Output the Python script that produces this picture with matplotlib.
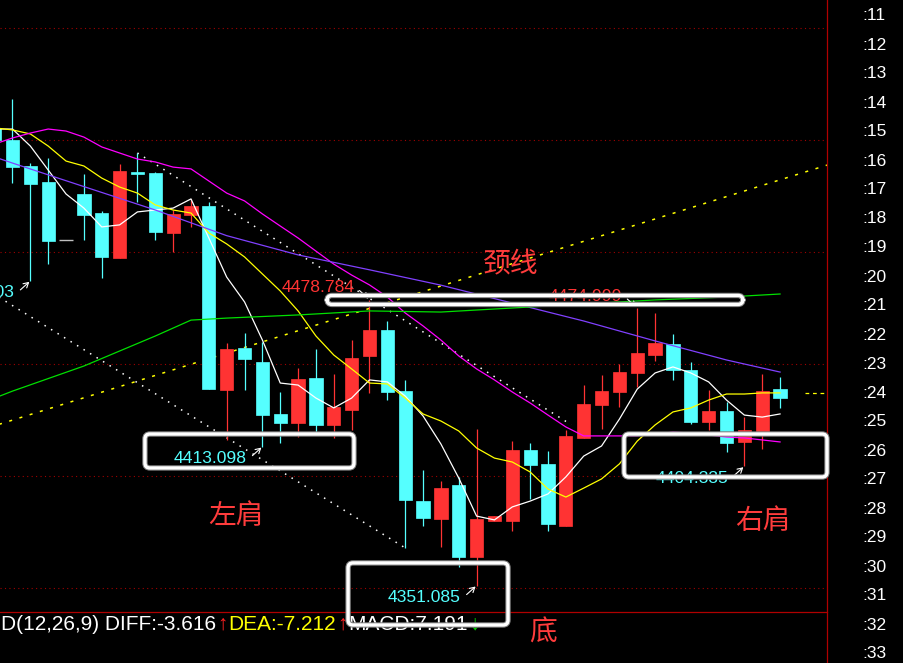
import matplotlib
matplotlib.use("Agg")
import matplotlib.pyplot as plt
from matplotlib.patches import FancyBboxPatch, Rectangle
from matplotlib.lines import Line2D
from matplotlib.transforms import IdentityTransform
import numpy as np

plt.rcParams['font.family'] = ['Liberation Sans', 'DejaVu Sans']

# ---- daily candles, index -1 .. 43 ----
candle_idx = list(range(-1, 44))
opens = [4555.4, 4550.0, 4538.4, 4531.25, 4505.4, 4525.9, 4517.4, 4497.3, 4535.7, 4535.3,
         4508.5, 4516.5, 4520.5, 4438.4, 4457.1, 4450.9, 4427.7, 4423.7, 4443.75, 4422.8,
         4429.5, 4453.6, 4465.2, 4437.9, 4388.8, 4380.8, 4396.0, 4363.8, 4379.9, 4379.9,
         4411.6, 4405.4, 4377.7, 4417.0, 4431.7, 4437.5, 4446.0, 4454.0, 4458.9, 4447.3,
         4424.1, 4429.0, 4415.2, 4419.6, 4438.8]
highs = [4556.5, 4568.3, 4539.7, 4542.0, 4505.4, 4534.8, 4518.3, 4539.3, 4544.2, 4535.7,
         4518.75, 4523.7, 4522.3, 4459.4, 4463.8, 4459.8, 4437.5, 4448.2, 4456.7, 4445.5,
         4460.7, 4478.784, 4469.2, 4442.9, 4402.7, 4397.8, 4399.55, 4421.0, 4382.1, 4415.6,
         4414.7, 4411.2, 4420.5, 4440.6, 4445.1, 4450.0, 4474.999, 4472.8, 4463.4, 4450.9,
         4438.4, 4433.0, 4426.3, 4445.5, 4444.2]
lows = [4548.5, 4530.8, 4487.103, 4494.6, 4505.4, 4505.4, 4488.4, 4497.3, 4522.3, 4505.4,
        4500.0, 4511.2, 4438.8, 4416.1, 4438.4, 4413.098, 4414.7, 4417.4, 4419.2, 4417.0,
        4420.5, 4437.05, 4433.9, 4367.9, 4377.7, 4368.3, 4359.4, 4351.085, 4379.9, 4375.4,
        4389.7, 4375.4, 4377.7, 4417.0, 4421.0, 4430.8, 4439.7, 4451.3, 4442.9, 4423.2,
        4420.5, 4410.7, 4404.335, 4412.05, 4430.4]
closes = [4550.0, 4537.9, 4530.4, 4504.9, 4505.4, 4516.5, 4497.8, 4536.2, 4534.8, 4508.9,
          4517.0, 4520.5, 4438.8, 4456.7, 4452.2, 4427.2, 4423.7, 4443.3, 4422.8, 4430.8,
          4452.7, 4465.2, 4437.5, 4389.3, 4381.25, 4394.6, 4363.8, 4380.8, 4382.1, 4411.6,
          4404.9, 4378.6, 4417.9, 4432.1, 4437.9, 4446.4, 4454.9, 4459.4, 4447.3, 4424.1,
          4429.0, 4414.7, 4420.5, 4437.9, 4434.8]

# ---- moving averages ----
ma5 = [4554.9, 4554.9, 4547.3, 4536.6, 4525.9, 4519.6, 4511.2, 4512.1, 4517.9, 4518.75,
       4519.6, 4523.7, 4506.25, 4488.8, 4477.7, 4460.7, 4441.5, 4440.6, 4434.8, 4430.4,
       4434.8, 4442.9, 4442.0, 4435.7, 4426.8, 4414.3, 4399.1, 4382.1, 4380.4, 4386.2,
       4388.8, 4392.0, 4399.6, 4408.9, 4413.4, 4425.4, 4438.8, 4446.0, 4448.7, 4446.0,
       4442.0, 4433.9, 4427.2, 4426.3, 4427.7]
ma10 = [4555.4, 4554.5, 4552.7, 4547.3, 4540.6, 4538.4, 4533.0, 4529.0, 4526.3, 4521.0,
        4518.75, 4517.4, 4508.5, 4503.6, 4497.8, 4490.2, 4482.6, 4473.7, 4462.5, 4454.0,
        4447.8, 4441.5, 4441.1, 4434.8, 4427.7, 4424.55, 4420.1, 4412.5, 4408.0, 4406.25,
        4401.8, 4394.2, 4390.6, 4394.6, 4398.7, 4405.4, 4415.6, 4422.8, 4428.6, 4430.4,
        4433.9, 4436.6, 4436.6, 4437.1, 4437.1]
ma20 = [4548.2, 4550.9, 4553.1, 4554.9, 4554.0, 4551.3, 4546.9, 4544.2, 4541.5, 4540.2,
        4537.9, 4537.1, 4531.7, 4526.3, 4522.8, 4517.0, 4511.6, 4506.25, 4500.4, 4494.6,
        4489.7, 4485.3, 4479.9, 4472.8, 4467.0, 4460.7, 4453.6, 4447.8, 4442.9, 4437.5,
        4432.6, 4427.2, 4421.9, 4417.9, 4417.9, 4417.9, 4417.9, 4418.75, 4419.6, 4419.2,
        4418.3, 4417.4, 4417.0, 4416.1, 4415.2]
ma60_idx = [-1, 0, 4, 8, 12, 16, 20, 24, 28, 32, 36, 40, 43]
ma60 = [4542.4, 4539.7, 4529.2, 4518.75, 4507.3, 4498.7, 4492.05, 4485.2, 4477.2,
        4469.2, 4460.3, 4451.8, 4446.4]
ma120_idx = [-1, 0, 4, 8, 10, 12, 16, 20, 24, 28, 32, 36, 40, 43]
ma120 = [4434.8, 4437.9, 4449.1, 4462.5, 4469.6, 4470.5, 4471.9, 4473.7, 4473.2, 4475.0,
         4476.8, 4478.6, 4479.9, 4481.25]

# ---- hand-drawn trend lines (index, price) ----
channel_upper = [(7, 4544.2), (31.3, 4422.9)]
channel_lower = [(-1, 4481.0), (22, 4367.9)]
rising_line = [(-1, 4422.45), (46, 4539.7)]

# ---- marked extremes ----
high_marks = [20, 35]
low_marks = [1, 14, 26, 41]

# ---- pattern boxes (x0, y0, x1, y1) in index / price ----
boxes = [(17.62, 4476.6, 40.92, 4480.6),
         (7.42, 4403.6, 19.13, 4418.75),
         (18.80, 4333.5, 27.76, 4361.2),
         (34.26, 4399.55, 45.63, 4418.75)]
pattern_labels = [("颈线", 27.87, 4494.6), ("左肩", 12.52, 4382.1),
                  ("右肩", 42.04, 4379.9), ("底", 29.72, 4329.9)]

grid_prices = [4350, 4400, 4450, 4500, 4550, 4600]
right_labels = [":%d" % n for n in range(11, 34)]

# ---- indicator readout ----
macd_pieces = [("D(12,26,9) DIFF:-3.616", 'white'), ("↑", '#ff2020'),
               ("DEA:-7.212", '#ffff00'), ("↑", '#ff2020'),
               ("MACD:7.191", 'white'), ("↓", '#00d000')]

RED = '#ff3333'
CYAN = '#55ffff'
W, H = 904, 663

fig = plt.figure(figsize=(W / 100, H / 100), dpi=100, facecolor='black')
ax = fig.add_axes([0, 51 / H, 827 / W, 612 / H])
ax.set_facecolor('black')
ax.set_xlim(-0.70, 45.63)
ax.set_ylim(4339.29, 4612.5)
ax.set_axis_off()

for p in grid_prices:
    ax.axhline(p, color='#a00000', lw=0.8, ls=(0, (1, 3)), zorder=1)

# trend lines
for (x0, y0), (x1, y1) in (channel_upper, channel_lower):
    ax.plot([x0, x1], [y0, y1], color='white', lw=1.1, ls=(0, (1, 4)), zorder=2)
ax.plot([rising_line[0][0], rising_line[1][0]], [rising_line[0][1], rising_line[1][1]],
        color='#ffff00', lw=1.1, ls=(0, (2, 5)), zorder=2)

# candles
bw = 0.74
for i, o, h, l, c in zip(candle_idx, opens, highs, lows, closes):
    if c > o:
        col = RED
    elif c < o:
        col = CYAN
    else:
        col = '#c0c0c0'
    ax.vlines(i, l, h, color=col, lw=0.9, zorder=3)
    if c == o:
        ax.hlines(o, i - bw / 2, i + bw / 2, color=col, lw=1.0, zorder=3)
    else:
        ax.add_patch(Rectangle((i - bw / 2, min(o, c)), bw, abs(c - o),
                               facecolor=col, edgecolor=col, lw=0.5, zorder=3))

# moving averages
ax.plot(candle_idx, ma5, color='white', lw=0.9, zorder=4)
ax.plot(candle_idx, ma10, color='#ffff00', lw=0.9, zorder=4)
ax.plot(candle_idx, ma20, color='#ff00ff', lw=0.9, zorder=4)
ax.plot(ma60_idx, ma60, color='#8040ff', lw=0.9, zorder=4)
ax.plot(ma120_idx, ma120, color='#00e000', lw=0.9, zorder=4)
ax.plot([44.4, 45.63], [ma10[-1], ma10[-1]], color='#ffff00', lw=0.9, ls=(0, (3, 3)), zorder=4)

# extreme labels
pos = {i: k for k, i in enumerate(candle_idx)}
for i in high_marks:
    v = highs[pos[i]]
    ax.annotate("%.3f" % v, xy=(i, v), xytext=(-15, 12), textcoords='offset pixels',
                ha='right', va='center', color=RED, fontsize=12.6, zorder=5)
    ax.annotate('', xy=(i, v), xytext=(-10, 9), textcoords='offset pixels',
                arrowprops=dict(arrowstyle='->,head_length=0.35,head_width=0.2',
                                color='white', lw=0.8, shrinkA=0, shrinkB=1), zorder=5)
for i in low_marks:
    v = lows[pos[i]]
    ax.annotate("%.3f" % v, xy=(i, v), xytext=(-16, -12), textcoords='offset pixels',
                ha='right', va='center', color=CYAN, fontsize=12.6, zorder=5,
                annotation_clip=False)
    ax.annotate('', xy=(i, v), xytext=(-10, -9), textcoords='offset pixels',
                arrowprops=dict(arrowstyle='->,head_length=0.35,head_width=0.2',
                                color='white', lw=0.8, shrinkA=0, shrinkB=1), zorder=5)

# pattern labels
for s, x, y in pattern_labels:
    ax.text(x, y, s, color='#ff3c3c', fontsize=20, ha='center', va='center',
            family=['Noto Sans CJK SC', 'DejaVu Sans'], zorder=6, clip_on=False)

# frame lines
fig.add_artist(Line2D([0, 827 / W], [51 / H, 51 / H], color='#b00000', lw=0.9,
                      transform=fig.transFigure))
fig.add_artist(Line2D([827.5 / W, 827.5 / W], [0, 1], color='#b00000', lw=0.9,
                      transform=fig.transFigure))

# right-side labels
for k, s in enumerate(right_labels):
    fig.text(862 / W, 1 - (16 + 29 * k) / H, s, color='white', fontsize=12.5,
             ha='left', va='center')

# indicator readout, pieces laid out left to right
renderer = fig.canvas.get_renderer()
x = 1.0
for s, col in macd_pieces:
    t = fig.text(x / W, 1 - 624 / H, s, color=col, fontsize=15, ha='left', va='center')
    x = t.get_window_extent(renderer).x1 + 1

# pattern boxes
for x0, y0, x1, y1 in boxes:
    px0, py0 = ax.transData.transform((x0, y0))
    px1, py1 = ax.transData.transform((x1, y1))
    for lw, col in ((3.9, '#808080'), (2.4, 'white')):
        fig.add_artist(FancyBboxPatch((px0, py0), px1 - px0, py1 - py0,
                                      boxstyle='round,pad=0,rounding_size=5',
                                      transform=IdentityTransform(), fill=False,
                                      ec=col, lw=lw, zorder=10))

fig.savefig('out.png', dpi=100, facecolor='black')
